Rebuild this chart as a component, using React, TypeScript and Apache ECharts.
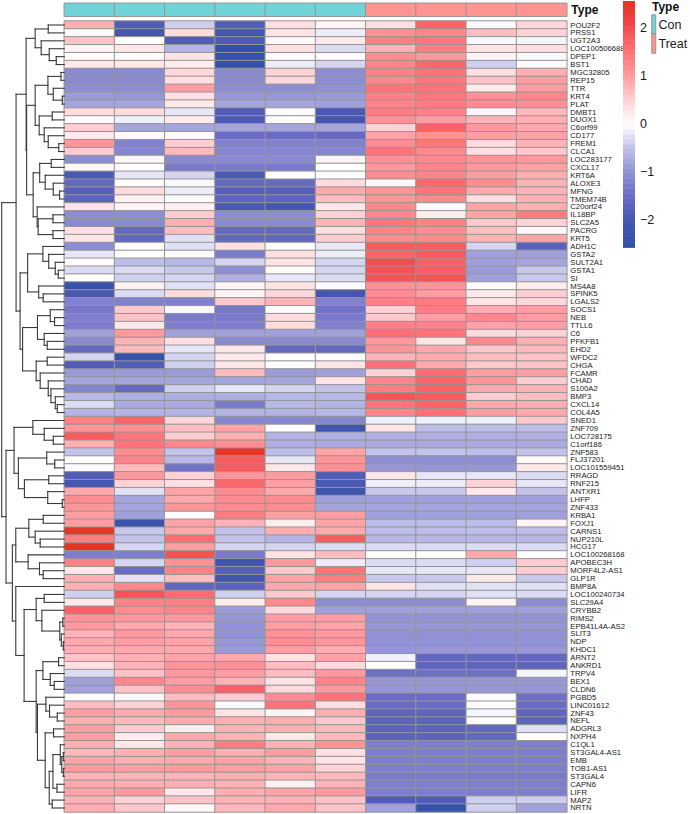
import React, { useEffect, useRef } from "react";
import * as echarts from "echarts";

const genes = ["POU2F2","PRSS1","UGT2A3","LOC100506688","DPEP1","BST1","MGC32805","REP15","TTR","KRT4","PLAT","DMBT1","DUOX1","C6orf99","CD177","FREM1","CLCA1","LOC283177","CXCL17","KRT6A","ALOXE3","MFNG","TMEM74B","C20orf24","IL18BP","SLC2A5","PACRG","KRT5","ADH1C","GSTA2","SULT2A1","GSTA1","SI","MS4A8","SPINK5","LGALS2","SOCS1","NEB","TTLL6","C6","PFKFB1","EHD2","WFDC2","CHGA","FCAMR","CHAD","S100A2","BMP3","CXCL14","COL4A5","SNED1","ZNF709","LOC728175","C1orf186","ZNF583","FLJ37201","LOC101559451","RRAGD","RNF215","ANTXR1","LHFP","ZNF433","KRBA1","FOXJ1","CARNS1","NUP210L","HCG17","LOC100268168","APOBEC3H","MORF4L2-AS1","GLP1R","BMP8A","LOC100240734","SLC29A4","CRYBB2","RIMS2","EPB41L4A-AS2","SLIT3","NDP","KHDC1","ARNT2","ANKRD1","TRPV4","BEX1","CLDN6","PGBD5","LINC01612","ZNF43","NEFL","ADGRL3","NXPH4","C1QL1","ST3GAL4-AS1","EMB","TOB1-AS1","ST3GAL4","CAPN6","LIFR","MAP2","NRTN"];

const sampleTypes = [0,0,0,0,0,0,1,1,1,1];
const sampleNames = ["Con1","Con2","Con3","Con4","Con5","Con6","Treat1","Treat2","Treat3","Treat4"];
const typeNames = ["Con","Treat"];
const typeColors = ["#70D3D7","#FF9491"];
const ticks = [-2,-1,0,1,2];
const palette = ["#2F50A8","#4556B0","#6468C0","#8E8ED4","#C0C0EA","#FFFFFF","#FFD0D4","#FF9A9E","#FF6E74","#F0484A","#E53020"];

const expression = [
[.85,-1.9,-.4,-1.85,.35,.12,.35,1.7,.05,.45],
[.08,-2.1,.4,-2.1,.3,-.15,1.15,1.25,.7,.5],
[.65,.02,-1.9,-1.95,.08,.25,1.4,1.45,-.05,-.08],
[.12,.25,-.65,-2.5,.35,-.3,.8,1.4,.3,.35],
[.05,.06,.3,-2.45,.05,.05,1.2,1.05,.12,-.05],
[.25,.25,.2,-2.45,-.15,-.35,1.3,1.65,-.4,.05],
[-1.1,-1.1,.45,-1.1,.5,-1.05,1.35,1.5,.35,.85],
[-1.1,-1.1,.35,-1.1,.45,-1.05,1.25,1.45,.65,1.0],
[-1.05,-1.05,1.0,-1.05,-1.05,-1.0,1.5,1.5,.2,1.0],
[-.9,-.95,.35,-.95,-.95,-.9,1.35,1.45,1.15,1.25],
[-.8,-.8,.25,-.8,-.8,-.85,1.3,1.4,1.2,1.15],
[.4,.4,-.2,-1.9,-.02,-2.0,1.4,1.35,.1,.75],
[.05,-.12,.2,-2.0,-.02,-2.1,1.15,1.0,.8,.85],
[.55,-.8,-.8,-.8,-.8,-.8,.5,1.75,1.05,.9],
[.2,.05,.05,-1.5,-1.5,-1.55,.95,1.15,1.0,.95],
[1.1,-1.2,.55,-1.2,-1.2,-1.2,1.2,1.45,.4,.8],
[.55,-1.15,.75,-1.15,-1.15,-1.15,1.5,1.25,.35,.6],
[-1.05,.1,-1.1,-1.1,-1.1,.12,1.15,1.25,1.1,1.05],
[.06,.03,-1.3,-1.3,-1.3,.02,1.05,1.3,1.05,.95],
[-2.0,-.2,-.35,-2.0,.02,-.02,1.2,1.3,1.0,.85],
[-1.6,.05,-.05,-1.6,-1.55,.4,.08,1.65,1.2,.8],
[-1.8,.4,-.15,-1.8,-1.8,.9,1.1,1.5,.9,.8],
[-1.7,.15,.03,-1.7,-1.7,.7,1.1,1.25,.35,.8],
[.3,.12,.15,-2.0,-2.1,.25,1.25,-.03,.95,.85],
[-1.05,-1.05,.55,-1.05,-1.05,.5,1.25,.2,.95,1.4],
[-1.1,-1.1,.85,-1.1,-1.1,.8,1.45,1.35,.6,.5],
[.35,-1.55,.7,-1.55,-1.55,.35,1.3,1.2,.7,.1],
[.3,-1.6,-.25,-1.6,-1.6,.55,1.2,1.25,.8,.95],
[-1.05,.03,-.25,.35,.02,-.2,1.85,1.8,-.35,-1.75],
[-.2,.03,.05,-1.3,.35,-.15,1.7,1.85,-.85,-.85],
[.05,-.55,-.6,-.35,.3,-.35,2.0,1.75,-.85,-.8],
[-.3,-.3,-.45,-1.05,.06,-.35,1.95,1.8,-.9,-.45],
[.02,-.4,-.35,-.7,-.2,-.3,1.95,1.95,-.85,-.45],
[-2.4,.15,-.25,.12,.3,.03,1.15,1.1,.03,.2],
[-2.0,-.3,.4,.12,.45,-2.1,1.2,1.0,.25,.55],
[-1.2,-1.2,-1.2,.6,.8,-1.2,1.35,1.4,.3,.45],
[-1.35,.6,-.05,-1.35,.03,-1.4,.5,1.4,.85,1.0],
[-1.25,.65,-1.3,-1.3,.4,-1.3,.6,1.0,1.25,1.0],
[-1.25,.25,-1.25,-1.25,.4,-1.2,1.35,1.3,.95,1.0],
[-.85,1.05,-.85,-.85,-.85,-.85,1.55,1.5,.4,.5],
[-1.1,.8,.35,-1.1,-1.1,-1.1,1.05,.3,1.25,.85],
[-1.55,.75,-.2,.25,-1.6,-1.6,1.1,.9,.6,.75],
[-.35,-2.4,-.35,.25,.04,.02,.8,.9,.7,.65],
[-1.9,-1.85,-.4,.25,.03,.3,1.55,.9,.6,.65],
[-.9,-.9,-.9,.7,-.9,-.85,.5,1.6,1.0,1.0],
[-.8,-.8,-.8,-.8,-.8,.3,1.3,1.7,1.1,.55],
[-1.15,-1.55,-.4,-.2,-.35,-.5,1.4,1.75,.9,.8],
[-.6,-.7,-.7,-.7,-.6,-.6,1.9,1.8,.55,.7],
[-.3,-.75,-.75,-1.3,-.6,-.65,1.5,1.7,.9,.85],
[-.65,-.65,-.65,-.65,-.65,-.6,1.3,1.55,1.0,.9],
[1.35,1.7,.45,-1.15,-1.15,-1.15,-.12,-.12,-.12,.6],
[1.1,1.15,.7,.95,.01,-2.2,.3,-.55,-.55,-.55],
[1.8,1.45,.55,.85,-.65,-.7,-.7,-.7,-.7,-.7],
[.85,1.5,1.25,1.15,-.7,-.75,-.75,-.75,-.75,-.75],
[-.5,1.2,-.5,2.5,-.55,.95,-.5,-.5,-.55,-.5],
[.02,1.3,-.6,1.8,-.2,1.1,-1.05,-1.05,-1.05,.08],
[-.03,.75,-1.4,1.8,.25,1.15,-.95,-.95,-.95,.25],
[-1.9,1.05,.5,1.1,1.0,-1.85,.25,-.2,-.2,-.3],
[-2.05,.5,.35,1.65,1.0,-2.0,-.12,-.15,.5,-.2],
[.9,-.25,.95,1.2,.9,-2.2,-.45,-.45,.25,-.5],
[1.2,-.8,.9,1.2,1.2,-.85,-.85,-.85,-.85,-.85],
[1.1,-.8,1.1,1.2,1.2,-.8,-.8,-.8,-.8,-.8],
[1.0,-.85,.02,1.4,1.0,1.0,-.85,-.85,-.85,-.85],
[1.0,-2.3,.95,.8,.2,.95,-.55,-.55,-.55,.12],
[2.5,-.45,.9,-.5,.85,.9,-.55,-.55,-.55,-.55],
[1.4,-.5,1.6,-.5,-.65,1.8,-.6,-.6,-.6,-.6],
[2.55,-.35,1.0,-.35,-.35,-.3,-.3,-.3,-.3,-.3],
[-1.25,-1.25,1.95,-1.3,.3,.7,.03,.03,.9,.02],
[1.35,-.35,1.15,-2.2,1.05,-.15,-.3,-.3,-.4,.55],
[.25,-1.5,1.35,-1.8,.6,1.5,-.2,-.2,-.2,.55],
[.85,-.25,.7,-2.15,.95,1.4,-.45,-.45,.25,-.45],
[.85,1.25,-1.6,-1.7,.9,.95,.3,-.25,-.25,-.25],
[-.4,1.9,1.6,-.4,.6,-.35,-.35,-.35,-.25,-.3],
[.25,1.3,1.35,.2,1.25,-1.05,-1.05,-1.05,.12,-1.05],
[1.75,1.2,1.3,-.9,.4,-.85,-.85,-.85,-.85,-.85],
[1.1,1.05,1.05,-.95,1.0,1.0,-1,-1,-1,-1],
[1.05,.9,.8,-1,1.0,.95,-.95,-.95,-.95,-.95],
[.8,1.05,.9,-1,1.15,1.05,-1,-1,-1,-1],
[.9,1.0,.95,-.95,1.2,1.1,-1,-1,-1,-1],
[.85,.9,.9,-.9,1.0,.85,-.95,-.95,-.95,-.95],
[.65,.85,.95,.9,.3,.95,-.12,-1.6,-1.6,-1.6],
[.35,.8,1.1,1.15,.7,.4,.02,-1.65,-1.65,-1.65],
[-.3,.65,1.05,1.0,.7,1.05,-1.45,-1.45,-1.45,-.08],
[-.85,1.25,1.0,.8,.3,1.3,-.95,-.95,-.95,-.95],
[-.85,.65,1.2,1.75,.4,1.05,-.95,-.95,-.95,-.95],
[.02,-.05,.7,.55,1.2,1.5,-1.5,-1.5,.03,-1.45],
[.7,.5,1.1,-.03,1.5,.35,-1.5,-1.5,.03,-1.5],
[1.0,.9,1.05,.3,.12,.85,-1.65,-1.65,-.08,-1.65],
[.85,.75,.9,.85,.85,.6,-1.7,-1.7,.02,-1.7],
[1.0,.55,.2,.8,.85,.75,-1.7,-1.7,-1.6,-.25],
[1.0,.2,.9,.8,.25,.75,-1.7,-1.7,-1.6,.03],
[.85,.25,.8,1.4,.8,1.15,-1.25,-1.25,-1.25,-1.25],
[.75,.85,1.0,.85,1.0,.35,-1.25,-1.25,-1.25,-1.25],
[.95,.85,.9,.95,.8,.3,-1.25,-1.25,-1.25,-1.25],
[1.05,1.0,1.05,1.0,.95,.5,-1.25,-1.25,-1.25,-1.25],
[.8,.8,.8,.85,.8,.75,-1.3,-1.3,-1.3,-1.3],
[.9,.85,.85,.8,.15,.8,-1.25,-1.25,-1.25,-1.25],
[.95,1.05,.25,.85,.95,1.05,-1.25,-1.25,-1.25,-1.25],
[.8,.5,.65,.8,.8,.65,-1.9,-1.9,-.4,-.4],
[.85,.6,.08,.75,.9,.65,-.85,-2.5,-.4,-.85],
];

// Row dendrogram: [merge distance, upper child, lower child]; L is a leaf (next gene in order).
const L = 0;
const rows1to6 = [35,[48,L,L],[41,L,[49,L,[56,L,L]]]];
const rows7to17 = [35,[47.7,[60.7,L,L],[53,L,[62,L,L]]],[39,[52,L,L],[44,L,[48,L,[58.5,L,L]]]]];
const rows18to28 = [33,[39.5,[51,L,L],[45,L,[53,L,[59.3,L,L]]]],[37,L,[38,[52.7,L,L],[52.7,L,L]]]];
const rows29to36 = [27.5,[42.7,L,[48.5,L,[55,L,[58,L,L]]]],[38.5,L,[43,L,L]]];
const rows37to42 = [37.3,[50,L,[54.3,L,L]],[44,L,[47,L,L]]];
const rows43to50 = [36,[47,L,L],[40,L,[48,L,[50.7,L,[55,L,[57,L,L]]]]]];
const cluster1 = [16,[26,rows1to6,[26.5,rows7to17,rows18to28]],[20,rows29to36,[22.5,rows37to42,rows43to50]]];
const rows51to54 = [32.7,L,[44,L,[53,L,L]]];
const rows55to62 = [18.3,[46.5,L,[54.5,L,L]],[24.3,[48.5,L,L],[47.5,L,[62,L,L]]]];
const rows63to71 = [15.7,[28.7,[43,L,L],[35,L,[40,L,L]]],[28,L,[39.3,L,[43,L,L]]]];
const rows73to80 = [36,[44,L,L],[41.7,L,[59.5,[62.5,L,L],[61,L,[63,L,L]]]]];
const rows81to85 = [42.7,[58.3,L,L],[50,L,[54,L,L]]];
const rows86to89 = [45.7,L,[49.3,L,[57,L,L]]];
const rows90to100 = [45,[53.3,L,L],[49,[52.7,[60,L,[61.5,[63,L,L],[63,L,L]]],[56.7,L,L]],[52,L,L]]];
const cluster2 = [6,[14,rows51to54,rows55to62],[12.3,rows63to71,[15.7,L,[24,rows73to80,[36,rows81to85,[37.3,rows86to89,rows90to100]]]]]];
const rowTree = [1.7,cluster1,cluster2];

const LEAF_X = 64;
const FONT = '"Liberation Sans Narrow","Liberation Sans",Arial,sans-serif';

function treeSegments(tree: any) {
  const segs: number[][] = [];
  let next = 0;
  const walk = (n: any): [number, number] => {
    if (n === L) { next += 1; return [LEAF_X, next - 0.5]; }
    const a = walk(n[1]);
    const b = walk(n[2]);
    segs.push([n[0], a[1], n[0], b[1]]);
    segs.push([n[0], a[1], a[0], a[1]]);
    segs.push([n[0], b[1], b[0], b[1]]);
    return [n[0], (a[1] + b[1]) / 2];
  };
  walk(tree);
  return segs;
}

const BAR_MIN = -2.58;
const BAR_MAX = 2.57;
const BAR_STEPS = 50;

export default function App() {
  const ref = useRef<HTMLDivElement>(null);
  useEffect(() => {
    const chart = echarts.init(ref.current!, undefined, { renderer: "svg" });
    const cellData: number[][] = [];
    expression.forEach((row, r) => row.forEach((v, c) => cellData.push([c, r, v])));
    const bands: number[][] = [];
    for (let i = 0; i < BAR_STEPS; i++) {
      bands.push([BAR_MIN + ((BAR_MAX - BAR_MIN) * i) / BAR_STEPS, BAR_MIN + ((BAR_MAX - BAR_MIN) * (i + 1)) / BAR_STEPS]);
    }
    const hidden = { show: false };
    const GRIDLINE = "#959595";
    const catX = (data: string[], gridIndex: number) => ({ type: "category", data, gridIndex, ...hidden });
    chart.setOption({
      animation: false,
      backgroundColor: "#fff",
      textStyle: { fontFamily: FONT },
      grid: [
        { left: 64.3, width: 502.5, top: 21.05, height: 790.9 },
        { left: 64.3, width: 502.5, top: 3.3, height: 13 },
        { left: 0, width: 64.3, top: 21.05, height: 790.9 },
        { left: 623, width: 12, top: 1, height: 246.5 },
        { left: 652, width: 14, top: 15, height: 38 },
      ],
      xAxis: [
        catX(sampleNames, 0),
        catX(sampleNames, 1),
        { type: "value", gridIndex: 2, min: 0, max: LEAF_X, ...hidden },
        { type: "value", gridIndex: 3, min: 0, max: 1, ...hidden },
        catX(["Type"], 4),
      ],
      yAxis: [
        {
          type: "category", gridIndex: 0, data: genes, inverse: true, position: "right",
          axisLine: hidden, axisTick: hidden, splitLine: hidden,
          axisLabel: { interval: 0, fontSize: 7.7, color: "#1a1a1a", margin: 3.5, fontFamily: FONT },
        },
        {
          type: "category", gridIndex: 1, data: ["Type"], position: "right",
          axisLine: hidden, axisTick: hidden, splitLine: hidden,
          axisLabel: { fontSize: 12, fontWeight: "bold", color: "#111", margin: 4.5, fontFamily: FONT },
        },
        { type: "value", gridIndex: 2, min: 0, max: genes.length, inverse: true, ...hidden },
        {
          type: "value", gridIndex: 3, min: BAR_MIN, max: BAR_MAX, position: "right",
          axisLine: hidden, axisTick: hidden, splitLine: hidden,
          axisLabel: {
            customValues: ticks, fontSize: 12.5, color: "#1a1a1a", margin: 5, fontFamily: FONT,
            formatter: (v: number) => String(v).replace("-", "\u2212"),
          },
        },
        {
          type: "category", gridIndex: 4, data: typeNames, inverse: true, position: "right",
          axisLine: hidden, axisTick: hidden, splitLine: hidden,
          axisLabel: { interval: 0, fontSize: 12.5, color: "#1a1a1a", margin: 3, fontFamily: FONT },
        },
      ],
      visualMap: [
        { type: "continuous", show: false, seriesIndex: 0, min: -2.6, max: 2.6, inRange: { color: palette } },
        {
          type: "piecewise", show: false, seriesIndex: [1, 4], dimension: 2,
          pieces: typeColors.map((color, i) => ({ value: i, color })),
        },
      ],
      graphic: [
        { type: "text", x: 652, y: 1, silent: true, style: { text: "Type", font: `bold 12px ${FONT}`, fill: "#111" } },
      ],
      series: [
        {
          type: "heatmap", xAxisIndex: 0, yAxisIndex: 0, data: cellData, progressive: 0, silent: true,
          itemStyle: { borderColor: GRIDLINE, borderWidth: 1 },
        },
        {
          type: "heatmap", xAxisIndex: 1, yAxisIndex: 1, silent: true,
          data: sampleTypes.map((t, c) => [c, 0, t]),
          itemStyle: { borderColor: GRIDLINE, borderWidth: 1 },
        },
        {
          type: "custom", xAxisIndex: 2, yAxisIndex: 2, silent: true, clip: false,
          data: treeSegments(rowTree), encode: { x: [0, 2], y: [1, 3] },
          renderItem: (_p: any, api: any) => {
            const a = api.coord([api.value(0), api.value(1)]);
            const b = api.coord([api.value(2), api.value(3)]);
            return {
              type: "line",
              shape: { x1: a[0], y1: a[1], x2: b[0], y2: b[1] },
              style: { stroke: "#3a3a3a", lineWidth: 1.1, lineCap: "square" },
            };
          },
        },
        {
          type: "custom", xAxisIndex: 3, yAxisIndex: 3, silent: true,
          data: bands, encode: { y: [0, 1] },
          renderItem: (_p: any, api: any) => {
            const lo = api.value(0);
            const hi = api.value(1);
            const p0 = api.coord([0, hi]);
            const p1 = api.coord([1, lo]);
            const t = ((lo + hi) / 2 + 2.6) / 5.2;
            return {
              type: "rect",
              shape: { x: p0[0], y: p0[1], width: p1[0] - p0[0], height: p1[1] - p0[1] + 0.4 },
              style: { fill: echarts.color.lerp(t, palette) },
            };
          },
        },
        {
          type: "heatmap", xAxisIndex: 4, yAxisIndex: 4, silent: true,
          data: typeNames.map((_n, i) => [0, i, i]),
          itemStyle: { borderColor: GRIDLINE, borderWidth: 1 },
        },
      ],
    });
    return () => chart.dispose();
  }, []);
  return <div ref={ref} style={{ position: "absolute", left: 0, top: 0, width: 690, height: 814 }} />;
}
